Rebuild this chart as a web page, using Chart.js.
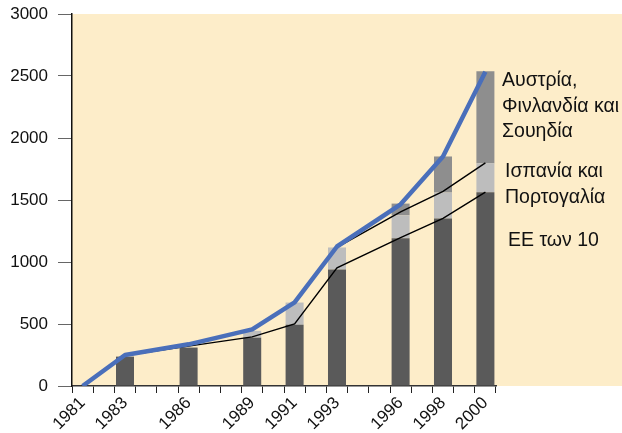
<!DOCTYPE html>
<html>
<head>
<meta charset="utf-8">
<script src="https://cdn.jsdelivr.net/npm/chart.js@4.4.1/dist/chart.umd.min.js"></script>
<style>
  html, body { margin: 0; padding: 0; background: #ffffff; }
  #wrap { width: 622px; height: 433px; }
</style>
</head>
<body>
<div id="wrap"><canvas id="chart" width="622" height="433"></canvas></div>
<script>
const years = ["1981","1982","1983","1984","1985","1986","1987","1988","1989","1990",
               "1991","1992","1993","1994","1995","1996","1997","1998","1999","2000"];
const shownYears = ["1981","1983","1986","1989","1991","1993","1996","1998","2000"];

// bar stacks (null = no bar that year)
const ee10 =      [null,null,237,null,null,310,null,null,390,null,493,null,940,null,null,1192,null,1350,null,1563];
const spainPort = [null,null,null,null,null,null,null,null,55,null,180,null,177,null,null,185,null,210,null,234];
const austFinSwe= [null,null,null,null,null,null,null,null,null,null,null,null,null,null,null,94,null,291,null,741];

// lines
const totalLine = [0,null,250,null,null,336,null,null,457,null,675,null,1125,null,null,1465,null,1850,null,2535];
const ee10Line =  [null,null,245,null,null,322,null,null,396,null,500,null,953,null,null,1196,null,1352,null,1563];
const ee12Line =  [null,null,null,null,null,null,null,null,null,null,null,null,1118,null,null,1405,null,1570,null,1800];

const yTicks = [0, 500, 1000, 1500, 2000, 2500, 3000];

const seriesLabels = [
    { lines: ["Αυστρία,", "Φινλανδία και", "Σουηδία"], x: 502, y: 81 },
    { lines: ["Ισπανία και", "Πορτογαλία"], x: 505, y: 172 },
    { lines: ["ΕΕ των 10"], x: 508, y: 241 }
];

const FONT = "'Liberation Sans', Arial, sans-serif";

const backdrop = {
    id: "backdrop",
    beforeDraw(chart) {
        const { ctx, chartArea } = chart;
        ctx.save();
        ctx.fillStyle = "#fdedc9";
        ctx.fillRect(chartArea.left, chartArea.top, chart.width - chartArea.left, chartArea.bottom - chartArea.top);
        ctx.restore();
    },
    afterDraw(chart) {
        const ctx = chart.ctx;
        ctx.save();
        ctx.fillStyle = "#111111";
        ctx.font = "19.5px " + FONT;
        ctx.textBaseline = "middle";
        seriesLabels.forEach(l => {
            l.lines.forEach((t, i) => ctx.fillText(t, l.x, l.y + i * 25.5));
        });
        ctx.restore();
    }
};

new Chart(document.getElementById("chart").getContext("2d"), {
    data: {
        labels: years,
        datasets: [
            { type: "line", data: totalLine, borderColor: "#4a6fba", borderWidth: 4.5, pointRadius: 0,
              spanGaps: true, tension: 0, borderJoinStyle: "round", stack: "t", order: 0 },
            { type: "line", data: ee12Line, borderColor: "#000000", borderWidth: 1.4, pointRadius: 0,
              spanGaps: true, tension: 0, stack: "a", order: 1 },
            { type: "line", data: ee10Line, borderColor: "#000000", borderWidth: 1.4, pointRadius: 0,
              spanGaps: true, tension: 0, stack: "b", order: 1 },
            { type: "bar", data: ee10, backgroundColor: "#5a5a5a", stack: "bars", order: 2,
              barPercentage: 0.85, categoryPercentage: 1 },
            { type: "bar", data: spainPort, backgroundColor: "#bdbdbd", stack: "bars", order: 2,
              barPercentage: 0.85, categoryPercentage: 1 },
            { type: "bar", data: austFinSwe, backgroundColor: "#8e8e8e", stack: "bars", order: 2,
              barPercentage: 0.85, categoryPercentage: 1 }
        ]
    },
    options: {
        responsive: false,
        animation: false,
        layout: { padding: { top: 14, right: 126, left: 0, bottom: 0 } },
        plugins: { legend: { display: false }, tooltip: { enabled: false } },
        scales: {
            x: {
                stacked: true,
                offset: true,
                grid: { offset: true, drawOnChartArea: false, tickLength: 7, color: "#222222" },
                border: { color: "#333333", width: 1.5 },
                ticks: {
                    autoSkip: false,
                    maxRotation: 45,
                    minRotation: 45,
                    color: "#111111",
                    font: { size: 17, family: FONT },
                    padding: 0,
                    callback: function(v) {
                        const lab = this.getLabelForValue(v);
                        return shownYears.includes(lab) ? lab : "";
                    }
                },
                afterFit(scale) { scale.height = 47; }
            },
            y: {
                stacked: true,
                min: 0,
                max: 3000,
                afterBuildTicks(scale) { scale.ticks = yTicks.map(v => ({ value: v })); },
                grid: { drawOnChartArea: false, tickLength: 14, color: "#666666" },
                border: { color: "#111111", width: 1.5 },
                ticks: {
                    color: "#111111",
                    font: { size: 17, family: FONT },
                    padding: 10,
                    callback: v => String(v)
                },
                afterFit(scale) {
                    scale.width = 72;
                    scale.paddingTop = 0;
                    scale.paddingBottom = 0;
                }
            }
        }
    },
    plugins: [backdrop]
});
</script>
</body>
</html>
